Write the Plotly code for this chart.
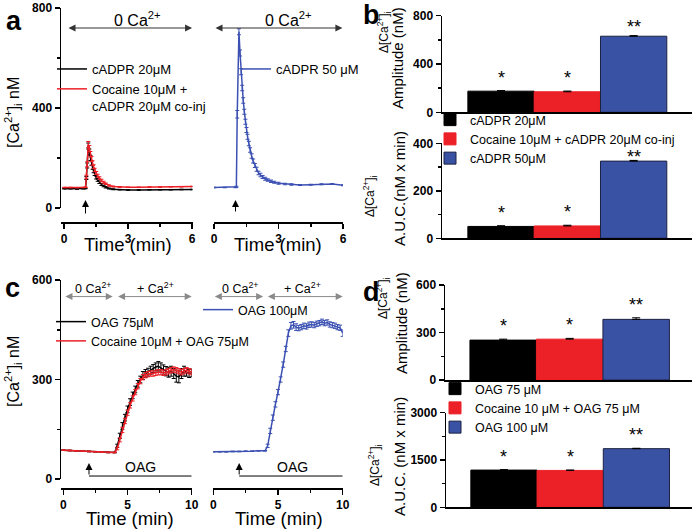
import plotly.graph_objects as go

W, H = 698, 530
def X(px): return px / W
def Y(py): return 1 - py / H

FONT = "Liberation Sans"
BLACK = "#000000"
RED = "#ec2027"
BLUE = "#3a52a4"
BLUE_LINE = "#3b50b2"

# ---------------- Panel a: traces ----------------
a_time = [0.0, 0.3, 0.6, 0.9, 1.0, 1.04, 1.08, 1.13, 1.18, 1.23, 1.28, 1.33, 1.38, 1.43, 1.5,
          1.57, 1.65, 1.75, 1.85, 1.95, 2.1, 2.3, 2.6, 3.0, 3.5, 4.0, 4.5, 5.0, 5.5, 6.0]
a_cadpr20 = [77, 77, 76, 77, 78, 120, 170, 248, 225, 200, 180, 163, 148, 136, 122,
             112, 103, 94, 88, 83, 78, 75, 73, 72, 72, 73, 73, 73, 74, 74]
a_cadpr20_err = [1, 1, 1, 1, 1, 6, 10, 12, 11, 10, 9, 8, 7, 6, 6,
                 5, 5, 4, 3, 3, 2, 2, 1, 1, 1, 1, 1, 1, 1, 1]
a_cocaine = [82, 82, 81, 82, 83, 125, 175, 254, 238, 215, 196, 180, 165, 152, 140,
             129, 120, 110, 103, 97, 90, 86, 84, 83, 83, 84, 84, 85, 85, 86]
a_cocaine_err = [1, 1, 1, 1, 1, 6, 10, 12, 12, 11, 10, 9, 8, 7, 6,
                 6, 5, 5, 4, 3, 3, 2, 2, 1, 1, 1, 1, 1, 1, 1]

a_time50 = [0.0, 0.5, 1.0, 1.04, 1.08, 1.16, 1.21, 1.26, 1.31, 1.36, 1.41, 1.46, 1.51, 1.56,
            1.62, 1.68, 1.75, 1.82, 1.9, 1.98, 2.07, 2.16, 2.26, 2.38, 2.5, 2.65, 2.8, 3.0,
            3.3, 3.6, 4.0, 4.5, 5.0, 5.5, 6.0]
a_cadpr50 = [82, 82, 82, 85, 375, 705, 620, 545, 480, 430, 385, 345, 312, 285,
             258, 232, 208, 188, 170, 155, 140, 132, 124, 117, 112, 107, 103, 99,
             96, 94, 92, 93, 95, 96, 91]
a_cadpr50_err = [1, 1, 1, 2, 15, 12, 12, 12, 11, 11, 10, 10, 10, 10,
                 9, 9, 9, 8, 8, 8, 7, 7, 6, 6, 5, 5, 4, 4,
                 3, 3, 2, 2, 2, 2, 2]

# ---------------- Panel b: bars ----------------
b_names = ["cADPR 20\u03bcM", "Cocaine 10\u03bcM + cADPR 20\u03bcM co-inj", "cADPR 50\u03bcM"]
b_pos = [1, 2, 3]
b_amp = [175, 170, 630]
b_amp_err = [5, 6, 5]
b_auc = [50, 52, 325]
b_auc_err = [3, 3, 3]
b_sig = ["*", "*", "**"]

# ---------------- Panel c: traces ----------------
c_time = [0, 0.5, 1, 1.5, 2, 2.5, 3, 3.5, 4.0, 4.2, 4.4, 4.6, 4.8, 5.0, 5.2, 5.4, 5.6, 5.8,
          6.0, 6.2, 6.4, 6.6, 6.8, 7.0, 7.2, 7.4, 7.6, 7.8, 8.0, 8.2, 8.4, 8.6, 8.8, 9.0,
          9.2, 9.4, 9.6, 9.8, 10.0]
c_oag75 = [87, 86, 85, 84, 83, 82, 81, 80, 80,
           100, 130, 160, 185, 210, 232, 252, 270, 287, 300,
           312, 318, 322, 328, 333, 338, 340, 336, 330, 325,
           322, 325, 318, 310, 308, 318, 325, 322, 318, 320]
c_oag75_err = [1, 1, 1, 1, 1, 1, 1, 1, 1,
               5, 8, 10, 10, 10, 10, 10, 10, 10, 10,
               12, 12, 12, 12, 12, 12, 14, 14, 14, 14,
               15, 15, 15, 18, 18, 15, 15, 12, 12, 12]
c_cocaine = [87, 86, 85, 84, 83, 82, 81, 80, 80,
             92, 118, 148, 175, 200, 222, 243, 262, 280, 295,
             307, 313, 316, 318, 318, 320, 322, 322, 320, 322,
             325, 328, 330, 328, 325, 322, 325, 328, 325, 322]
c_cocaine_err = [1, 1, 1, 1, 1, 1, 1, 1, 1,
                 4, 6, 8, 8, 8, 8, 8, 8, 8, 8,
                 8, 8, 8, 8, 8, 8, 8, 8, 8, 8,
                 8, 8, 8, 8, 8, 8, 8, 8, 8, 8]
c_oag100 = [82, 82, 82, 83, 83, 84, 84, 85, 85,
            100, 145, 185, 225, 262, 300, 345, 392, 440, 462,
            465, 458, 455, 458, 462, 460, 465, 466, 464, 468,
            470, 474, 470, 472, 466, 464, 462, 458, 456, 440]
c_oag100_err = [1, 1, 1, 1, 1, 1, 1, 1, 1,
                5, 8, 8, 8, 8, 8, 8, 8, 10, 10,
                10, 10, 8, 8, 8, 8, 8, 8, 8, 8,
                8, 8, 8, 8, 8, 8, 8, 8, 8, 10]

# ---------------- Panel d: bars ----------------
d_names = ["OAG 75 \u03bcM", "Cocaine 10 \u03bcM + OAG 75 \u03bcM", "OAG 100 \u03bcM"]
d_pos = [1, 2, 3]
d_amp = [252, 258, 383]
d_amp_err = [6, 5, 10]
d_auc = [1180, 1170, 1860]
d_auc_err = [15, 12, 12]
d_sig = ["*", "*", "**"]

bar_colors = [BLACK, RED, BLUE]
bar_lines = [BLACK, RED, "#1c2240"]

fig = go.Figure()

def line_trace(x, y, err, color, name, xa, ya, legend, showlegend=True):
    return go.Scatter(x=x, y=y, mode="lines", name=name, xaxis=xa, yaxis=ya,
                      line=dict(color=color, width=1.5), legend=legend, showlegend=showlegend,
                      error_y=dict(type="data", array=err, color=color, thickness=1, width=2))

fig.add_trace(line_trace(a_time, a_cadpr20, a_cadpr20_err, BLACK, "cADPR 20\u03bcM", "x", "y", "legend"))
fig.add_trace(line_trace(a_time, a_cocaine, a_cocaine_err, RED,
                         "Cocaine 10\u03bcM +<br>cADPR 20\u03bcM co-inj", "x", "y", "legend"))
fig.add_trace(line_trace(a_time50, a_cadpr50, a_cadpr50_err, BLUE_LINE, "cADPR 50 \u03bcM", "x2", "y2", "legend2"))

fig.add_trace(line_trace(c_time, c_oag75, c_oag75_err, BLACK, "OAG 75\u03bcM", "x5", "y5", "legend4"))
fig.add_trace(line_trace(c_time, c_cocaine, c_cocaine_err, RED, "Cocaine 10\u03bcM + OAG 75\u03bcM", "x5", "y5", "legend4"))
fig.add_trace(line_trace(c_time, c_oag100, c_oag100_err, BLUE_LINE, "OAG 100\u03bcM", "x6", "y6", "legend5"))

def bars(names, pos, vals, errs, xa, ya, legend, showlegend):
    for i in range(3):
        fig.add_trace(go.Bar(x=[pos[i]], y=[vals[i]], width=1, name=names[i], xaxis=xa, yaxis=ya,
                             marker=dict(color=bar_colors[i], line=dict(color=bar_lines[i], width=1)),
                             legend=legend, showlegend=showlegend,
                             error_y=dict(type="data", symmetric=False, array=[errs[i]], arrayminus=[0],
                                          color=BLACK, thickness=1, width=4)))

bars(b_names, b_pos, b_amp, b_amp_err, "x3", "y3", "legend3", True)
bars(b_names, b_pos, b_auc, b_auc_err, "x4", "y4", "legend3", False)
bars(d_names, d_pos, d_amp, d_amp_err, "x7", "y7", "legend6", True)
bars(d_names, d_pos, d_auc, d_auc_err, "x8", "y8", "legend6", False)

TF = dict(family=FONT, size=12, color="black", weight="bold")

def ax(**kw):
    d = dict(showline=True, linecolor="black", linewidth=1.5, ticks="outside", ticklen=5,
             tickwidth=1.5, tickcolor="black", showgrid=False, zeroline=False, tickfont=TF,
             tick0=0, automargin=False)
    d.update(kw)
    return d

def minor(dt):
    return dict(dtick=dt, ticks="outside", ticklen=3, tickwidth=1.5, tickcolor="black", showgrid=False)

bar_x = dict(showticklabels=False, ticks="", showline=True, linecolor="black", linewidth=1.5,
             showgrid=False, zeroline=False, automargin=False)

fig.update_layout(
    width=W, height=H, margin=dict(l=0, r=0, t=0, b=0, pad=0, autoexpand=False),
    paper_bgcolor="white", plot_bgcolor="white",
    font=dict(family=FONT, color="black"),
    barmode="overlay", bargap=0,
    # panel a
    xaxis=ax(domain=[X(61), X(192.5)], range=[-0.15, 6.02], anchor="free", position=Y(222),
             dtick=3, minor=minor(1.5)),
    yaxis=ax(domain=[Y(208), Y(8)], range=[0, 800], anchor="x", dtick=400, minor=minor(200)),
    xaxis2=ax(domain=[X(214), X(343)], range=[0, 6], anchor="free", position=Y(222),
              dtick=3, minor=minor(1.5)),
    yaxis2=dict(domain=[Y(208), Y(8)], range=[0, 800], anchor="x2", visible=False),
    # panel b
    xaxis3=dict(bar_x, domain=[X(442), X(692)], range=[0.11, 3.88], anchor="y3"),
    yaxis3=ax(domain=[Y(112.3), Y(15.7)], range=[0, 800], anchor="x3", dtick=400, minor=minor(200)),
    xaxis4=dict(bar_x, domain=[X(442), X(692)], range=[0.11, 3.88], anchor="y4"),
    yaxis4=ax(domain=[Y(238.3), Y(143.3)], range=[0, 400], anchor="x4", dtick=200, minor=minor(100)),
    # panel c
    xaxis5=ax(domain=[X(61), X(191.7)], range=[-0.18, 10], anchor="free", position=Y(488.3),
              dtick=5, minor=minor(2.5)),
    yaxis5=ax(domain=[Y(479), Y(280)], range=[0, 600], anchor="x5", dtick=300, minor=minor(150)),
    xaxis6=ax(domain=[X(213.3), X(342.7)], range=[0, 10], anchor="free", position=Y(488.3),
              dtick=5, minor=minor(2.5)),
    yaxis6=dict(domain=[Y(479), Y(280)], range=[0, 600], anchor="x6", visible=False),
    # panel d
    xaxis7=dict(bar_x, domain=[X(445), X(691.7)], range=[0.125, 3.835], anchor="y7"),
    yaxis7=ax(domain=[Y(380), Y(285)], range=[0, 600], anchor="x7", dtick=300, minor=minor(150)),
    xaxis8=dict(bar_x, domain=[X(446), X(691.7)], range=[0.125, 3.835], anchor="y8"),
    yaxis8=ax(domain=[Y(507.3), Y(412.7)], range=[0, 3000], anchor="x8", dtick=1500, minor=minor(750)),
)

LEG = dict(bgcolor="rgba(0,0,0,0)", borderwidth=0, xanchor="left", yanchor="top",
           tracegroupgap=0, valign="top", traceorder="normal")
fig.update_layout(
    legend=dict(LEG, x=X(52), y=Y(54), font=dict(family=FONT, size=13)),
    legend2=dict(LEG, x=X(236), y=Y(54), font=dict(family=FONT, size=13)),
    legend3=dict(LEG, x=X(430), y=Y(105), font=dict(family=FONT, size=12.5)),
    legend4=dict(LEG, x=X(51), y=Y(307), font=dict(family=FONT, size=12.5)),
    legend5=dict(LEG, x=X(198), y=Y(295), font=dict(family=FONT, size=12.5)),
    legend6=dict(LEG, x=X(435), y=Y(374), font=dict(family=FONT, size=12.5)),
)

ann = []
def txt(x, y, s, size, **kw):
    d = dict(x=x, y=y, xref="paper", yref="paper", text=s, showarrow=False,
             font=dict(family=FONT, size=size, color="black"), xanchor="center", yanchor="middle")
    d.update(kw)
    ann.append(d)

CA = "[Ca<sup>2+</sup>]<sub>i</sub>"
# panel labels
for lab, px, py in [("a", 14, 21), ("b", 371, 15), ("c", 12, 288), ("d", 371, 292)]:
    txt(X(px), Y(py), "<b>%s</b>" % lab, 27)
# y titles, line plots
txt(X(13), Y(113), CA + " nM", 16, textangle=-90)
txt(X(13), Y(372), CA + " nM", 16, textangle=-90)
# x titles
for px, py in [(128, 244), (278, 244), (130, 518), (279, 518)]:
    txt(X(px), Y(py), "Time (min)", 18.5)
# bar y titles
txt(X(384), Y(32), "\u0394" + CA, 12, textangle=-90)
txt(X(398), Y(58), "Amplitude (nM)", 15, textangle=-90)
txt(X(370), Y(196), "\u0394" + CA, 12, textangle=-90)
txt(X(399), Y(189), "A.U.C.(nM x min)", 15, textangle=-90)
txt(X(383), Y(298), "\u0394" + CA, 12, textangle=-90)
txt(X(401), Y(323), "Amplitude (nM)", 15, textangle=-90)
txt(X(375), Y(465), "\u0394" + CA, 12, textangle=-90)
txt(X(399), Y(457), "A.U.C. (nM x min)", 15, textangle=-90)
# solution labels
txt(X(137), Y(19), "0 Ca<sup>2+</sup>", 16)
txt(X(288), Y(19), "0 Ca<sup>2+</sup>", 16)
txt(X(93), Y(288), "0 Ca<sup>2+</sup>", 12.5)
txt(X(155), Y(288), "+ Ca<sup>2+</sup>", 12.5)
txt(X(240), Y(288), "0 Ca<sup>2+</sup>", 12.5)
txt(X(302), Y(288), "+ Ca<sup>2+</sup>", 12.5)

def darrow(xa, ya, x0, x1, y, color):
    ann.append(dict(x=x1, y=y, ax=x0, ay=y, xref=xa, yref=ya, axref=xa, ayref=ya, text="",
                    showarrow=True, arrowhead=2, startarrowhead=2, arrowside="end+start",
                    arrowsize=1.4, startarrowsize=1.4, arrowwidth=1, arrowcolor=color))

def uparrow(xa, ya, x, y0, y1):
    ann.append(dict(x=x, y=y1, ax=x, ay=y0, xref=xa, yref=ya, axref=xa, ayref=ya, text="",
                    showarrow=True, arrowhead=2, arrowsize=1.4, arrowwidth=1, arrowcolor="black"))

darrow("x", "y", 0.13, 6.0, 720, "#333")
darrow("x2", "y2", 0.0, 5.97, 720, "#333")
darrow("x5", "y5", 0.05, 3.85, 550, "#8a8a8a")
darrow("x5", "y5", 4.15, 10.0, 550, "#8a8a8a")
darrow("x6", "y6", 0.0, 3.85, 550, "#8a8a8a")
darrow("x6", "y6", 4.1, 10.0, 550, "#8a8a8a")
uparrow("x", "y", 1.0, -28, 32)
uparrow("x2", "y2", 1.0, -20, 32)
uparrow("x5", "y5", 2.0, 9, 48)
uparrow("x6", "y6", 2.0, 9, 48)

shapes = []
for xa, ya in [("x5", "y5"), ("x6", "y6")]:
    shapes.append(dict(type="line", xref=xa, yref=ya, x0=2.0, x1=10.0, y0=9, y1=9,
                       line=dict(color="black", width=1)))
ann.append(dict(x=6.0, y=37, xref="x5", yref="y5", text="OAG", showarrow=False,
                font=dict(family=FONT, size=14, color="black")))
ann.append(dict(x=6.1, y=37, xref="x6", yref="y6", text="OAG", showarrow=False,
                font=dict(family=FONT, size=14, color="black")))

# significance stars (pixel nudges per bar)
star_shift = {"x3": [1, 1, -3], "x4": [1, 1, -9], "x7": [1, 1, 1], "x8": [1, 1, 1]}
for xa, ya, pos, vals, errs, sig in [("x3", "y3", b_pos, b_amp, b_amp_err, b_sig),
                                     ("x4", "y4", b_pos, b_auc, b_auc_err, b_sig),
                                     ("x7", "y7", d_pos, d_amp, d_amp_err, d_sig),
                                     ("x8", "y8", d_pos, d_auc, d_auc_err, d_sig)]:
    for i in range(3):
        ann.append(dict(x=pos[i], y=vals[i] + errs[i], xref=xa, yref=ya, text=sig[i], showarrow=False,
                        yanchor="bottom", yshift=star_shift[xa][i],
                        font=dict(family=FONT, size=18, color="black")))

fig.update_layout(annotations=ann, shapes=shapes)
fig.write_html("out.html", config={"displayModeBar": False, "staticPlot": True},
               post_script="document.body.style.margin='0px';document.body.style.overflow='hidden';")
